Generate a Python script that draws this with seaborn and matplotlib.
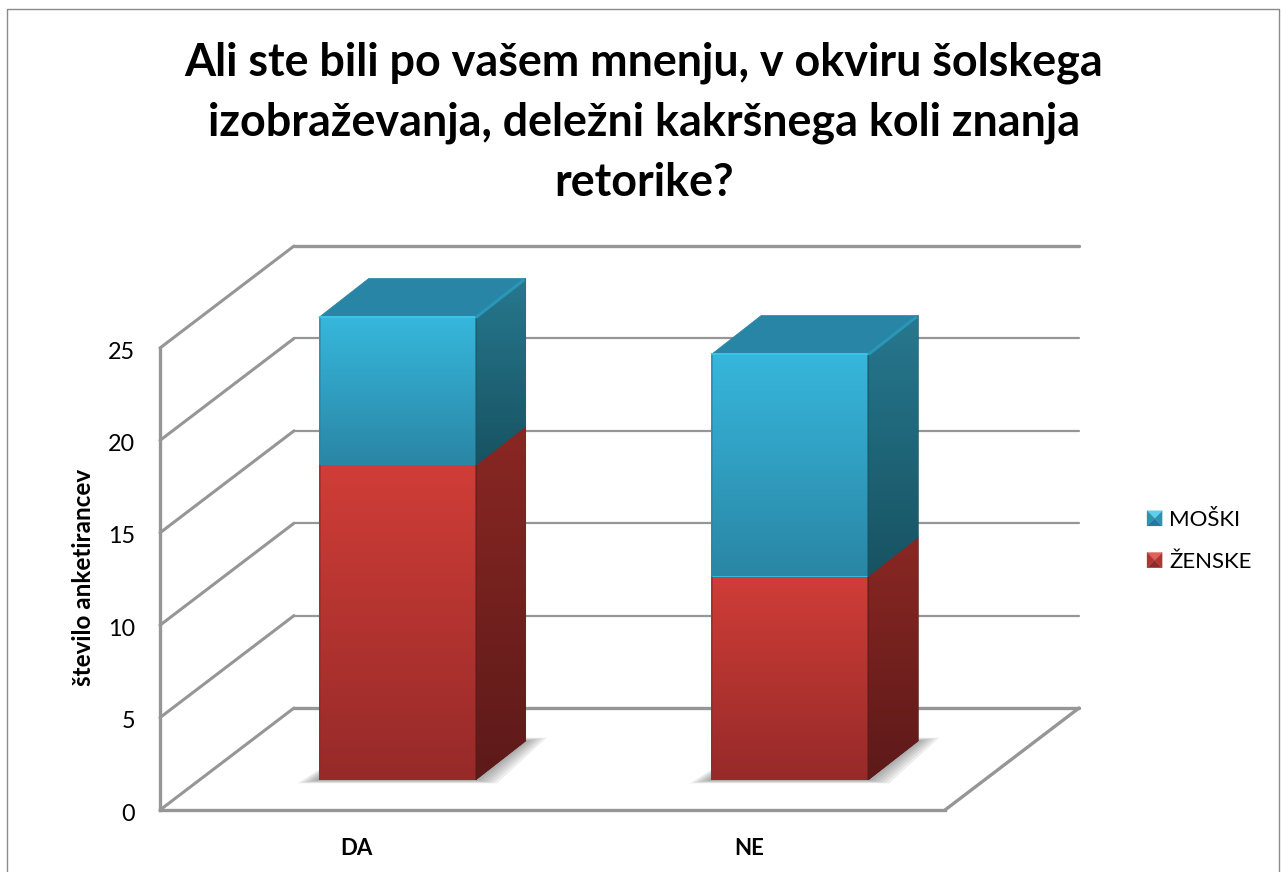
import matplotlib.pyplot as plt
import numpy as np
import seaborn as sns
from matplotlib.colors import LinearSegmentedColormap
from matplotlib.legend_handler import HandlerBase
from matplotlib.patches import Polygon
from matplotlib.transforms import ScaledTranslation

sns.set_theme(style="white")
plt.rcParams["font.family"] = ["Lato", "DejaVu Sans"]

TITLE = "Ali ste bili po vašem mnenju, v okviru šolskega\nizobraževanja, deležni kakršnega koli znanja\nretorike?"
YLABEL = "število anketirancev"
categories = ["DA", "NE"]
zenske = [17, 11]
moski = [8, 12]
yticks = [0, 5, 10, 15, 20, 25]

W, H = 1281, 872
GREY = "#969696"

# front top, front bottom, side top, side bottom
RED = ["#D03D37", "#962A29", "#8A2723", "#5C1A19"]
BLUE = ["#36B7DC", "#2A86A5", "#27788F", "#175362"]
TOP_BLUE = "#2885A5"


def rect(left, top, right, bottom):
    return [left / W, 1 - bottom / H, (right - left) / W, (bottom - top) / H]


class BevelHandler(HandlerBase):
    # small pyramid swatch like the office legend keys
    def __init__(self, shades):
        super().__init__()
        self.shades = shades

    def create_artists(self, legend, orig, xd, yd, w, h, fontsize, trans):
        x0, y0 = -xd, -yd
        cx, cy = x0 + w / 2, y0 + h / 2
        c = [x0, y0], [x0 + w, y0], [x0 + w, y0 + h], [x0, y0 + h]
        out = []
        for i, shade in enumerate(self.shades):
            tri = Polygon([c[i], c[(i + 1) % 4], [cx, cy]], fc=shade, ec=shade, lw=0.2, transform=trans)
            out.append(tri)
        return out


def gradient(ax, extent, top, bottom, clip, z):
    cmap = LinearSegmentedColormap.from_list("g", [top, bottom])
    im = ax.imshow(np.linspace(0, 1, 128)[:, None], cmap=cmap, extent=extent, aspect="auto", origin="upper", zorder=z)
    im.set_clip_path(clip)


fig = plt.figure(figsize=(W / 100, H / 100), dpi=100, facecolor="white")

# outer chart border, runs off the bottom of the image
fig.add_artist(plt.Line2D([7 / W, 7 / W, 1279 / W, 1279 / W], [0, 1 - 9 / H, 1 - 9 / H, 0], color="#8a8a8a", lw=1.0))

fig.text(644 / W, 1 - 41 / H, TITLE, ha="center", va="top", fontsize=32.3, fontweight="bold", color="black", linespacing=1.53)

# walls and floor
wall_dx, wall_dy = 0.3415, 5.52
ax = fig.add_axes(rect(160, 246, 160 + 392.5 * (2 + wall_dx), 810))
ax.set_xlim(-0.5, 1.5 + wall_dx)
ax.set_ylim(0, 25 + wall_dy)
ax.patch.set_alpha(0)
for t in yticks:
    lw = 2.4 if t in (0, 25) else 1.6
    ax.plot([-0.5, -0.5 + wall_dx], [t, t + wall_dy], color=GREY, lw=2.2, clip_on=False, solid_capstyle="round")
    ax.plot([-0.5 + wall_dx, 1.5 + wall_dx], [t + wall_dy, t + wall_dy], color=GREY, lw=lw, clip_on=False)
ax.plot([1.5, 1.5 + wall_dx], [0, wall_dy], color=GREY, lw=2.4, clip_on=False)

sns.despine(ax=ax, top=True, right=True)
for side in ("left", "bottom"):
    ax.spines[side].set_color(GREY)
    ax.spines[side].set_linewidth(2.4)
ax.spines["left"].set_bounds(0, 25)
ax.spines["bottom"].set_bounds(-0.5, 1.5)
ax.set_yticks(yticks)
ax.set_yticklabels([str(t) for t in yticks], fontsize=16.8, color="black")
ax.set_xticks(range(len(categories)))
ax.set_xticklabels(categories, fontsize=16, fontweight="bold", color="black")
ax.tick_params(axis="y", length=0, pad=18)
ax.tick_params(axis="x", length=0, pad=20)
for label in ax.get_yticklabels():
    label.set_transform(label.get_transform() + ScaledTranslation(0, -1.5 / 72, fig.dpi_scale_trans))
ax.set_ylabel(YLABEL, fontsize=17.5, fontweight="bold", color="black")
ax.yaxis.set_label_coords(-65 / (392.5 * (2 + wall_dx)), (810 - 577) / (810 - 246))

# bars stand inside the floor, so they get their own shifted axes
bar_dx, bar_dy = 0.1274, 2.11
bx = fig.add_axes(rect(201, 225, 201 + 392.5 * 2.5, 780), zorder=3)
sns.barplot(x=categories, y=zenske, color=RED[0], width=0.4, saturation=1, ax=bx)
n_red = len(bx.patches)
sns.barplot(x=categories, y=moski, bottom=zenske, color=BLUE[0], width=0.4, saturation=1, ax=bx)
patches = list(bx.patches)
bx.set_xlim(-0.5, 2.0)
bx.set_ylim(0, 30)
bx.set_autoscale_on(False)
bx.axis("off")

for p in patches[:n_red]:
    x0, x1 = p.get_x(), p.get_x() + p.get_width()
    # soft floor shadow
    for k in range(1, 7):
        e = k * 0.009
        d = k * 0.03
        top = bar_dy + k * 0.03
        bx.add_patch(Polygon([[x0 - e, -d], [x1 + e, -d], [x1 + bar_dx + e, top], [x0 + bar_dx, top]],
                             fc="#303030", ec="none", alpha=0.08, zorder=1, clip_on=False))

for i, p in enumerate(patches):
    shades = RED if i < n_red else BLUE
    x0, x1 = p.get_x(), p.get_x() + p.get_width()
    y0, y1 = p.get_y(), p.get_y() + p.get_height()
    p.set_zorder(2)
    p.set_edgecolor(shades[1])
    p.set_linewidth(0.6)
    side = Polygon([[x1, y0], [x1 + bar_dx, y0 + bar_dy], [x1 + bar_dx, y1 + bar_dy], [x1, y1]], fc=shades[3], ec=shades[3], lw=0.4, zorder=2)
    bx.add_patch(side)
    gradient(bx, (x1, x1 + bar_dx, y0, y1 + bar_dy), shades[2], shades[3], side, 3)
    gradient(bx, (x0, x1, y0, y1), shades[0], shades[1], p, 3)
    # bevel edges
    bx.plot([x0 + 0.002, x0 + 0.002], [y0, y1], color=shades[1], lw=1.2, alpha=0.7, zorder=4, solid_capstyle="butt")
    bx.plot([x1, x1], [y0, y1], color=shades[3], lw=1.2, alpha=0.6, zorder=4, solid_capstyle="butt")
    if i >= n_red:
        bx.add_patch(Polygon([[x0, y1], [x1, y1], [x1 + bar_dx, y1 + bar_dy], [x0 + bar_dx, y1 + bar_dy]], fc=TOP_BLUE, ec=TOP_BLUE, lw=0.5, zorder=4))
        bx.plot([x0, x1], [y1, y1], color="#3BC2E6", lw=1.5, zorder=5, solid_capstyle="butt")
        bx.plot([x1, x1 + bar_dx * 0.97], [y1, y1 + bar_dy * 0.97], color="#2A97B8", lw=2.2, zorder=5, solid_capstyle="butt")

h_red = plt.Rectangle((0, 0), 1, 1)
h_blue = plt.Rectangle((0, 0), 1, 1)
fig.legend(handles=[h_blue, h_red], labels=["MOŠKI", "ŽENSKE"],
           handler_map={h_blue: BevelHandler(["#24799A", "#2E93B0", "#5FD0EC", "#2E93B0"]),
                        h_red: BevelHandler(["#8E2A28", "#B03633", "#E0605A", "#B03633"])},
           loc="center left", bbox_to_anchor=(1147 / W, 1 - 541 / H), frameon=False, fontsize=16, labelcolor="black",
           handlelength=0.68, handleheight=0.68, handletextpad=0.32, labelspacing=0.98, borderpad=0, borderaxespad=0)

fig.savefig("out.png", dpi=100)
